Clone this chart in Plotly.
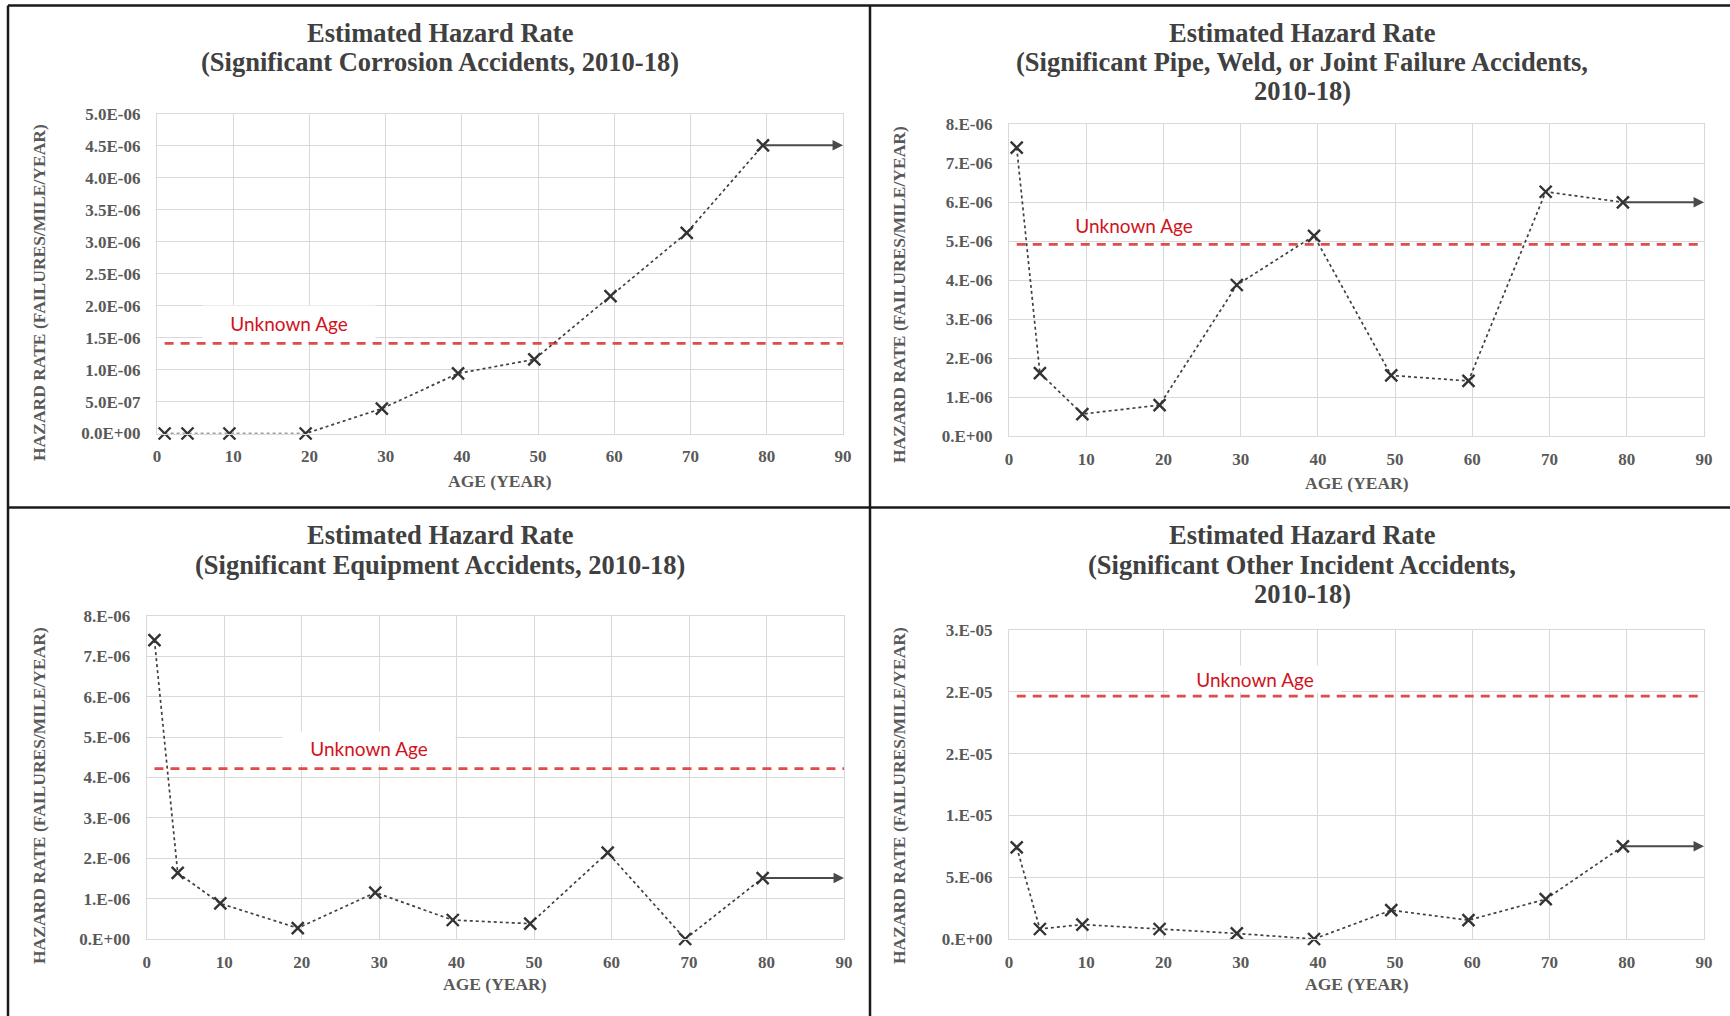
import plotly.graph_objects as go

W, H = 1730, 1016

# ---------------- data ----------------
ages = [1, 4, 9.5, 19.5, 29.5, 39.5, 49.5, 59.5, 69.5, 79.5]

corrosion = [0, 0, 0, 0, 0.39e-6, 0.94e-6, 1.16e-6, 2.15e-6, 3.14e-6, 4.51e-6]
corrosion_unknown = 1.41e-6

pipe_weld = [7.40e-6, 1.62e-6, 0.57e-6, 0.80e-6, 3.88e-6, 5.14e-6, 1.56e-6, 1.42e-6, 6.27e-6, 6.00e-6]
pipe_weld_unknown = 4.92e-6

equipment = [7.40e-6, 1.64e-6, 0.88e-6, 0.27e-6, 1.15e-6, 0.47e-6, 0.38e-6, 2.14e-6, 0.0, 1.51e-6]
equipment_unknown = 4.22e-6

other = [7.42e-6, 0.81e-6, 1.17e-6, 0.81e-6, 0.45e-6, 0.0, 2.33e-6, 1.52e-6, 3.22e-6, 7.50e-6]
other_unknown = 1.965e-5

x_tickvals = [0, 10, 20, 30, 40, 50, 60, 70, 80, 90]
x_ticktext = ["0", "10", "20", "30", "40", "50", "60", "70", "80", "90"]

y1_tickvals = [0, 0.5e-6, 1.0e-6, 1.5e-6, 2.0e-6, 2.5e-6, 3.0e-6, 3.5e-6, 4.0e-6, 4.5e-6, 5.0e-6]
y1_ticktext = ["0.0E+00", "5.0E-07", "1.0E-06", "1.5E-06", "2.0E-06", "2.5E-06",
               "3.0E-06", "3.5E-06", "4.0E-06", "4.5E-06", "5.0E-06"]
y8_tickvals = [0, 1e-6, 2e-6, 3e-6, 4e-6, 5e-6, 6e-6, 7e-6, 8e-6]
y8_ticktext = ["0.E+00", "1.E-06", "2.E-06", "3.E-06", "4.E-06", "5.E-06", "6.E-06", "7.E-06", "8.E-06"]
y4_tickvals = [0, 5e-6, 1e-5, 1.5e-5, 2e-5, 2.5e-5]
y4_ticktext = ["0.E+00", "5.E-06", "1.E-05", "2.E-05", "2.E-05", "3.E-05"]

titles = [
    ["Estimated Hazard Rate", "(Significant Corrosion Accidents, 2010-18)"],
    ["Estimated Hazard Rate", "(Significant Pipe, Weld, or Joint Failure Accidents,", "2010-18)"],
    ["Estimated Hazard Rate", "(Significant Equipment Accidents, 2010-18)"],
    ["Estimated Hazard Rate", "(Significant Other Incident Accidents,", "2010-18)"],
]
unknown_label = "Unknown Age"
x_title = "AGE (YEAR)"
y_title = "HAZARD RATE (FAILURES/MILE/YEAR)"

# ---------------- layout geometry (pixels) ----------------
panels = [
    dict(vals=corrosion, unk=corrosion_unknown, ymax=5e-6, tv=y1_tickvals, tt=y1_ticktext,
         x0=157, x1=843, y0=114, y1=433.5, title_x=440, title_y=[33, 62],
         ytitle=(39, 293), xtitle_y=481, unk_xy=(289, 323), box_h=34),
    dict(vals=pipe_weld, unk=pipe_weld_unknown, ymax=8e-6, tv=y8_tickvals, tt=y8_ticktext,
         x0=1009, x1=1704, y0=124.3, y1=436.3, title_x=1302, title_y=[33, 62, 91.5],
         ytitle=(899, 295), xtitle_y=483, unk_xy=(1134, 225), box_h=28),
    dict(vals=equipment, unk=equipment_unknown, ymax=8e-6, tv=y8_tickvals, tt=y8_ticktext,
         x0=146.7, x1=844, y0=616, y1=939, title_x=440, title_y=[535, 565],
         ytitle=(39, 796), xtitle_y=984, unk_xy=(369, 748), box_h=32),
    dict(vals=other, unk=other_unknown, ymax=2.5e-5, tv=y4_tickvals, tt=y4_ticktext,
         x0=1009, x1=1704, y0=630, y1=939, title_x=1302, title_y=[535, 564.5, 594],
         ytitle=(899, 796), xtitle_y=984, unk_xy=(1255, 679), box_h=26),
]


def fx(p):
    return p / W


def fy(p):
    return 1 - p / H


SERIF = "Liberation Serif"
GRID = "#d9d9d9"
TICKC = "#595959"

fig = go.Figure()
annotations = []
layout_axes = {}

for i, p in enumerate(panels, start=1):
    xa = "x" if i == 1 else f"x{i}"
    ya = "y" if i == 1 else f"y{i}"
    xkey = "xaxis" if i == 1 else f"xaxis{i}"
    ykey = "yaxis" if i == 1 else f"yaxis{i}"

    # unknown age dashed line
    fig.add_trace(go.Scatter(
        x=[1, 90], y=[p["unk"], p["unk"]], mode="lines",
        line=dict(color="#E04B4B", width=2.6, dash="9px,7px"),
        xaxis=xa, yaxis=ya, hoverinfo="skip"))
    # data series
    fig.add_trace(go.Scatter(
        x=ages, y=p["vals"], mode="lines+markers",
        line=dict(color="#404040", width=1.7, dash="dot"),
        marker=dict(symbol="x-thin", size=12, color="#333333",
                    line=dict(width=2.4, color="#333333")),
        cliponaxis=False, xaxis=xa, yaxis=ya))

    layout_axes[xkey] = dict(
        domain=[fx(p["x0"]), fx(p["x1"])], range=[0, 90], anchor=ya, automargin=False,
        tickvals=x_tickvals, ticktext=x_ticktext, ticks="", ticklabelstandoff=7,
        showgrid=True, gridcolor=GRID, gridwidth=1.3, zeroline=False,
        showline=True, linecolor=GRID, linewidth=1.3, mirror=True,
        tickfont=dict(family=SERIF, size=17, color=TICKC, weight="bold"),
        fixedrange=True)
    layout_axes[ykey] = dict(
        domain=[fy(p["y1"]), fy(p["y0"])], range=[0, p["ymax"]], anchor=xa, automargin=False,
        tickvals=p["tv"], ticktext=p["tt"], ticks="", ticklabelstandoff=12,
        showgrid=True, gridcolor=GRID, gridwidth=1.3, zeroline=False,
        showline=True, linecolor=GRID, linewidth=1.3, mirror=True,
        tickfont=dict(family=SERIF, size=17, color=TICKC, weight="bold"),
        fixedrange=True)

    # arrow extending last value to the right edge
    annotations.append(dict(
        x=90, y=p["vals"][-1], ax=ages[-1], ay=p["vals"][-1],
        xref=xa, yref=ya, axref=xa, ayref=ya, text="", showarrow=True,
        arrowhead=2, arrowsize=1.1, arrowwidth=1.9, arrowcolor="#4a4a4a"))

    # title lines
    for line, ty in zip(titles[i - 1], p["title_y"]):
        annotations.append(dict(
            x=fx(p["title_x"]), y=fy(ty), xref="paper", yref="paper",
            text=line, showarrow=False, xanchor="center", yanchor="middle",
            font=dict(family=SERIF, size=26.5, color="#404040", weight="bold")))

    # axis titles
    annotations.append(dict(
        x=fx((p["x0"] + p["x1"]) / 2), y=fy(p["xtitle_y"]), xref="paper", yref="paper",
        text=x_title, showarrow=False, xanchor="center", yanchor="middle",
        font=dict(family=SERIF, size=17.5, color=TICKC, weight="bold")))
    annotations.append(dict(
        x=fx(p["ytitle"][0]), y=fy(p["ytitle"][1]), xref="paper", yref="paper",
        text=y_title, showarrow=False, xanchor="center", yanchor="middle", textangle=-90,
        font=dict(family=SERIF, size=17.5, color=TICKC, weight="bold")))

    # unknown age label
    annotations.append(dict(
        x=fx(p["unk_xy"][0]), y=fy(p["unk_xy"][1]), xref="paper", yref="paper",
        text=unknown_label, showarrow=False, xanchor="center", yanchor="middle",
        width=172, height=p["box_h"], bgcolor="white", borderpad=0,
        font=dict(family="Lato", size=19, color="#D0141E")))

# frame lines
frame = "#1a1a1a"
shapes = [
    dict(type="line", xref="paper", yref="paper", x0=fx(8), x1=1, y0=fy(5.5), y1=fy(5.5),
         line=dict(color=frame, width=2.5)),
    dict(type="line", xref="paper", yref="paper", x0=fx(8), x1=fx(8), y0=fy(5.5), y1=0,
         line=dict(color=frame, width=2.5)),
    dict(type="line", xref="paper", yref="paper", x0=fx(8), x1=1, y0=fy(507.5), y1=fy(507.5),
         line=dict(color=frame, width=2.5)),
    dict(type="line", xref="paper", yref="paper", x0=fx(870), x1=fx(870), y0=fy(5.5), y1=0,
         line=dict(color=frame, width=2.5)),
]

fig.update_layout(
    width=W, height=H, autosize=False, margin=dict(l=0, r=0, t=0, b=0, pad=0, autoexpand=False),
    paper_bgcolor="white", plot_bgcolor="white", showlegend=False,
    annotations=annotations, shapes=shapes, **layout_axes)

post = (
    "document.documentElement.style.margin='0';"
    "document.documentElement.style.overflow='hidden';"
    "document.body.style.margin='0';"
    "document.body.style.overflow='hidden';"
)

fig.write_html("out.html", config={"displayModeBar": False}, post_script=post)
